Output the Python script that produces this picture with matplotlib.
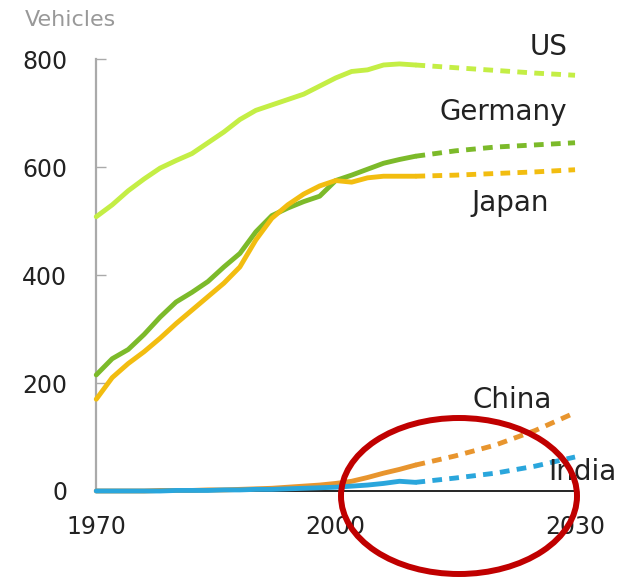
import matplotlib.pyplot as plt
from matplotlib.patches import Ellipse

# historical data (vehicles per 1000 people)
years_hist = [1970, 1972, 1974, 1976, 1978, 1980, 1982, 1984, 1986, 1988, 1990,
              1992, 1994, 1996, 1998, 2000, 2002, 2004, 2006, 2008, 2010]
us_hist = [508, 530, 556, 578, 598, 612, 625, 645, 665, 688, 705,
           715, 725, 735, 750, 765, 777, 780, 789, 791, 789]
germany_hist = [215, 245, 262, 290, 322, 350, 368, 388, 415, 440, 480,
                510, 524, 536, 546, 575, 585, 596, 607, 614, 620]
japan_hist = [170, 210, 236, 258, 283, 310, 335, 360, 385, 415, 465,
              505, 530, 550, 565, 575, 572, 580, 583, 583, 583]
china_hist = [0, 0, 0, 0, 1, 1, 1, 2, 2, 3, 4,
              5, 7, 9, 11, 14, 18, 25, 33, 40, 48]
india_hist = [0, 0, 0, 0, 0, 1, 1, 1, 2, 2, 3,
              3, 4, 5, 6, 7, 9, 11, 14, 18, 16]

# projections
years_proj = [2010, 2015, 2020, 2025, 2030]
us_proj = [789, 784, 779, 774, 770]
germany_proj = [620, 630, 637, 641, 645]
japan_proj = [583, 585, 588, 591, 595]
china_proj = [48, 65, 85, 112, 145]
india_proj = [16, 24, 33, 46, 63]

countries = ['US', 'Germany', 'Japan', 'China', 'India']
colors = ['#c4ee45', '#7cba2a', '#f2bd10', '#e8952e', '#2aa6dc']
hist = [us_hist, germany_hist, japan_hist, china_hist, india_hist]
proj = [us_proj, germany_proj, japan_proj, china_proj, india_proj]

fig = plt.figure(figsize=(6.21, 5.79), dpi=100)
ax = fig.add_axes([0.155, 0.152, 0.771, 0.746])

for h, p, c in zip(hist, proj, colors):
    ax.plot(years_hist, h, color=c, lw=3.5, solid_capstyle='round',
            zorder=3, clip_on=False)
    ax.plot(years_proj, p, color=c, lw=3.5, linestyle=(0, (2, 1.5)),
            zorder=3, clip_on=False)

ax.set_xlim(1970, 2030)
ax.set_ylim(0, 800)
ax.set_xticks([1970, 2000, 2030])
ax.set_yticks([0, 200, 400, 600, 800])
ax.tick_params(axis='y', direction='in', length=7, width=1, color='#aaaaaa',
               labelsize=17, pad=21, labelcolor='#222222')
ax.tick_params(axis='x', length=0, labelsize=17, pad=17, labelcolor='#222222')

for s in ['top', 'right']:
    ax.spines[s].set_visible(False)
ax.spines['left'].set_color('#aaaaaa')
ax.spines['left'].set_linewidth(1.6)
ax.spines['bottom'].set_color('black')
ax.spines['bottom'].set_linewidth(1.2)

fig.text(0.04, 0.965, 'Vehicles', fontsize=16, color='#999999',
         ha='left', va='center')

lab = dict(fontsize=20, color='#222222', va='center')
ax.text(2029.0, 822, 'US', ha='right', **lab)
ax.text(2029.0, 702, 'Germany', ha='right', **lab)
ax.text(2026.7, 533, 'Japan', ha='right', **lab)
ax.text(2027.1, 168, 'China', ha='right', **lab)
ax.text(2026.7, 35, 'India', ha='left', **lab)

ell = Ellipse((459 / 621, 1 - 496 / 579), 236 / 621, 156 / 579,
              transform=fig.transFigure, fill=False, edgecolor='#c00000',
              lw=4.3, zorder=10)
fig.add_artist(ell)

fig.savefig('out.png', dpi=100)
